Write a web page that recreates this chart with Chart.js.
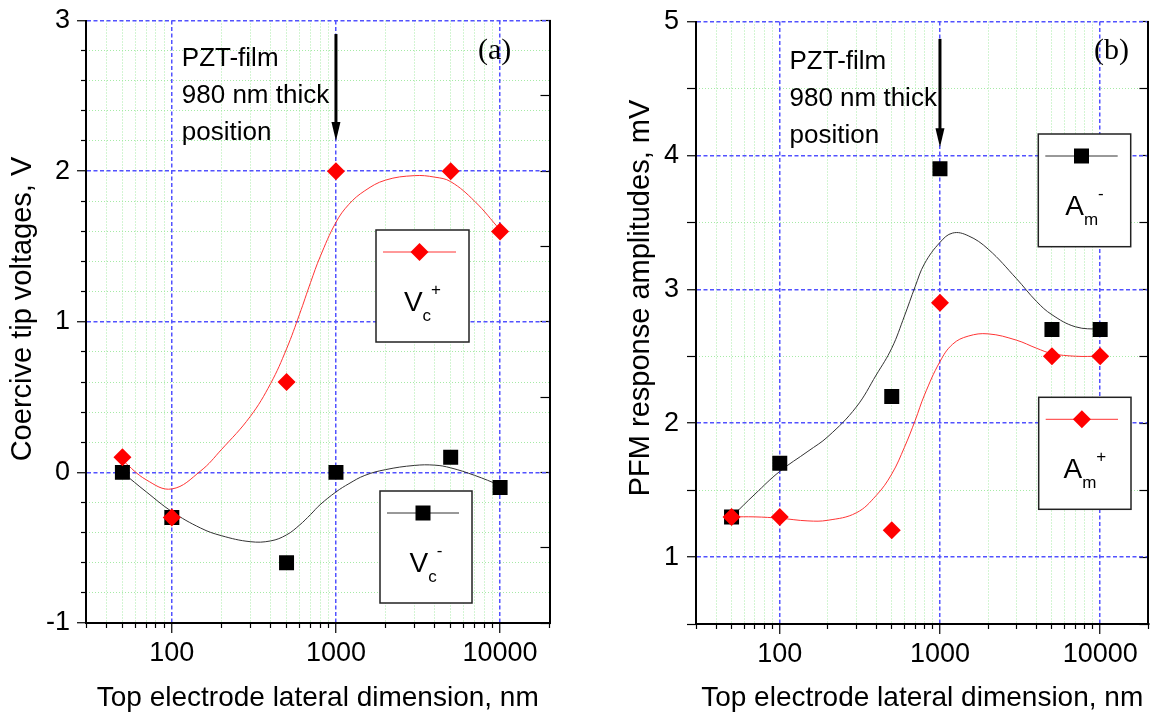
<!DOCTYPE html>
<html>
<head>
<meta charset="utf-8">
<script src="https://cdn.jsdelivr.net/npm/chart.js@4.4.1/dist/chart.umd.min.js"></script>
<style>
  html, body { margin: 0; padding: 0; background: #fff; }
  #wrap { position: relative; width: 1159px; height: 714px; overflow: hidden; }
  canvas { position: absolute; top: 0; }
  #chartA { left: 0; }
  #chartB { left: 580px; }
</style>
</head>
<body>
<div id="wrap">
  <canvas id="chartA" width="580" height="714"></canvas>
  <canvas id="chartB" width="579" height="714"></canvas>
</div>
<script>
// top electrode lateral dimension, nm
const sizes = [50, 100, 500, 1000, 5000, 10000];

// (a) coercive tip voltages, V
const vcPlus  = [0.1, -0.3, 0.6, 2.0, 2.0, 1.6];
const vcMinus = [0.0, -0.3, -0.6, 0.0, 0.1, -0.1];

// (b) PFM response amplitudes, mV
const amMinus = [1.3, 1.7, 2.2, 3.9, 2.7, 2.7];
const amPlus  = [1.3, 1.3, 1.2, 2.9, 2.5, 2.5];

const fitX = [50, 70, 100, 150, 200, 300, 400, 500, 600, 700, 800, 1000, 1200, 1500, 2000, 3000, 4000, 5000, 7000, 10000];
const vcPlusFit  = [0.08, -0.05, -0.11, 0.01, 0.15, 0.37, 0.59, 0.82, 1.05, 1.26, 1.43, 1.66, 1.78, 1.87, 1.94, 1.97, 1.96, 1.93, 1.80, 1.61];
const vcMinusFit = [0.0, -0.13, -0.26, -0.37, -0.42, -0.46, -0.455, -0.415, -0.35, -0.28, -0.215, -0.13, -0.075, -0.02, 0.018, 0.046, 0.048, 0.03, -0.02, -0.086];
const amMinusFit = [1.3, 1.47, 1.64, 1.79, 1.90, 2.12, 2.36, 2.56, 2.80, 3.02, 3.19, 3.35, 3.42, 3.40, 3.30, 3.08, 2.91, 2.81, 2.72, 2.70];
const amPlusFit  = [1.3, 1.30, 1.29, 1.27, 1.275, 1.33, 1.46, 1.62, 1.82, 2.02, 2.21, 2.46, 2.59, 2.65, 2.667, 2.62, 2.56, 2.52, 2.50, 2.50];

// axis ticks
const xMajor = [100, 1000, 10000];
const xMinor = [30, 40, 50, 60, 70, 80, 90, 200, 300, 400, 500, 600, 700, 800, 900,
                2000, 3000, 4000, 5000, 6000, 7000, 8000, 9000, 20000];
const yTicksA = [-1, 0, 1, 2, 3];
const yTicksB = [1, 2, 3, 4, 5];

const noteLines = ['PZT-film', '980 nm thick', 'position'];

const FONT = "'Liberation Sans', Arial, sans-serif";
const BLUE = '#5252ff';
const GREEN = '#a6eaa6';

Chart.defaults.font.family = FONT;
Chart.defaults.color = '#000';

function pts(xs, ys) {
  return xs.map((x, i) => ({x: x, y: ys[i]}));
}

function drawMarker(ctx, style, x, y, color) {
  ctx.fillStyle = color;
  ctx.beginPath();
  if (style === 'diamond') {
    ctx.moveTo(x, y - 9);
    ctx.lineTo(x + 9, y);
    ctx.lineTo(x, y + 9);
    ctx.lineTo(x - 9, y);
    ctx.closePath();
  } else {
    ctx.rect(x - 7.5, y - 7.5, 15, 15);
  }
  ctx.fill();
}

// notes, arrow, panel tag, legend boxes and the y title
const decor = {
  id: 'decor',
  afterDatasetsDraw(chart, args, o) {
    const ctx = chart.ctx;
    const sx = chart.scales.x, sy = chart.scales.y;
    ctx.save();

    ctx.fillStyle = '#000';
    ctx.font = '26px ' + FONT;
    ctx.textAlign = 'left';
    ctx.textBaseline = 'alphabetic';
    const nx = sx.getPixelForValue(o.note.x);
    const ny = sy.getPixelForValue(o.note.y);
    noteLines.forEach((t, i) => ctx.fillText(t, nx, ny + i * 37));

    // arrow pointing at the film thickness
    const ax = sx.getPixelForValue(o.arrow.x);
    const a1 = sy.getPixelForValue(o.arrow.from);
    const a2 = sy.getPixelForValue(o.arrow.to);
    ctx.strokeStyle = '#000';
    ctx.lineWidth = 3;
    ctx.beginPath();
    ctx.moveTo(ax, a1);
    ctx.lineTo(ax, a2 - 12);
    ctx.stroke();
    ctx.beginPath();
    ctx.moveTo(ax - 4.5, a2 - 19);
    ctx.lineTo(ax + 4.5, a2 - 19);
    ctx.lineTo(ax, a2);
    ctx.closePath();
    ctx.fill();

    ctx.font = "30px 'Liberation Serif', 'Times New Roman', serif";
    ctx.fillText(o.tag.text, o.tag.x, o.tag.y);

    o.boxes.forEach(b => {
      ctx.fillStyle = '#fff';
      ctx.fillRect(b.x, b.y, b.w, b.h);
      ctx.strokeStyle = '#222';
      ctx.lineWidth = 1.5;
      ctx.strokeRect(b.x, b.y, b.w, b.h);
      const ly = b.y + 22;
      const l1 = b.x + 7, l2 = b.x + b.w - 13;
      ctx.strokeStyle = b.line;
      ctx.lineWidth = 1;
      ctx.beginPath();
      ctx.moveTo(l1, ly);
      ctx.lineTo(l2, ly);
      ctx.stroke();
      drawMarker(ctx, b.style, (l1 + l2) / 2, ly, b.color);

      ctx.fillStyle = '#000';
      ctx.font = '28px ' + FONT;
      const wm = ctx.measureText(b.main).width;
      ctx.font = '17px ' + FONT;
      const ws = ctx.measureText(b.sub).width;
      const wp = ctx.measureText(b.sup).width;
      let tx = b.x + b.w / 2 - (wm + ws + wp) / 2;
      const base = b.y + 81;
      ctx.font = '28px ' + FONT;
      ctx.fillText(b.main, tx, base);
      tx += wm;
      ctx.font = '17px ' + FONT;
      ctx.fillText(b.sub, tx, base + 10);
      tx += ws;
      ctx.fillText(b.sup, tx, base - 16);
    });

    ctx.font = '29px ' + FONT;
    ctx.textAlign = 'center';
    ctx.textBaseline = 'middle';
    ctx.translate(o.yTitle.x, o.yTitle.y);
    ctx.rotate(-Math.PI / 2);
    ctx.fillText(o.yTitle.text, 0, 0);
    ctx.restore();
  }
};

function panel(id, p) {
  return new Chart(document.getElementById(id), {
    type: 'scatter',
    data: {
      datasets: [
        { data: pts(sizes, p.red), pointStyle: 'rectRot', pointRadius: 9, pointHoverRadius: 9,
          backgroundColor: '#ff0000', borderWidth: 0, order: 0, xAxisID: 'x', yAxisID: 'y' },
        { data: pts(sizes, p.black), pointStyle: 'rect', pointRadius: 10.6, pointHoverRadius: 10.6,
          backgroundColor: '#000', borderWidth: 0, order: 1, xAxisID: 'x', yAxisID: 'y' },
        { data: pts(fitX, p.redFit), showLine: true, pointRadius: 0, borderColor: '#ff3434',
          borderWidth: 1, tension: 0.4, order: 2, xAxisID: 'x', yAxisID: 'y' },
        { data: pts(fitX, p.blackFit), showLine: true, pointRadius: 0, borderColor: '#333',
          borderWidth: 1, tension: 0.4, order: 3, xAxisID: 'x', yAxisID: 'y' }
      ]
    },
    options: {
      responsive: false,
      animation: false,
      events: [],
      layout: { padding: { left: 0, right: p.padRight, top: 19, bottom: 0 } },
      plugins: {
        legend: { display: false },
        tooltip: { enabled: false },
        decor: p.decor
      },
      scales: {
        xMinor: {
          type: 'logarithmic', position: 'bottom', min: 30, max: 20000, weight: 0,
          afterBuildTicks: s => { s.ticks = xMinor.map(v => ({value: v})); },
          afterFit: s => { s.height = 0; },
          ticks: { display: false },
          grid: { color: GREEN, lineWidth: 1, tickLength: 5, tickColor: '#000', tickWidth: 1.2 },
          border: { display: false, dash: [1, 2] }
        },
        yMinor: {
          type: 'linear', position: 'left', min: p.yMin, max: p.yMax, weight: 0,
          ticks: { display: false, stepSize: p.minorStep },
          afterBuildTicks: s => { s.ticks = s.ticks.filter(t => Math.abs(t.value - Math.round(t.value)) > 1e-6); },
          afterFit: s => { s.width = 0; },
          grid: { color: GREEN, lineWidth: 1, tickLength: p.minorTick, tickColor: '#000', tickWidth: 1.2 },
          border: { display: false, dash: [1, 2] }
        },
        yR: {
          type: 'linear', position: 'right', min: p.yMin, max: p.yMax, weight: 0,
          ticks: { display: false, stepSize: 0.5 },
          afterFit: s => { s.width = 0; },
          grid: { drawOnChartArea: false, tickLength: -9, tickColor: '#000', tickWidth: 1.2 },
          border: { color: '#000', width: 2 }
        },
        x: {
          type: 'logarithmic', position: 'bottom', min: 30, max: 20000, weight: 1,
          afterBuildTicks: s => { s.ticks = xMajor.map(v => ({value: v})); },
          afterFit: s => { s.height = p.xHeight; },
          ticks: { autoSkip: false, maxRotation: 0, padding: 4, font: { size: 27, lineHeight: 1.2 },
                   callback: v => String(v) },
          grid: { color: BLUE, lineWidth: 1.5, tickLength: 10, tickColor: '#000', tickWidth: 1.2 },
          border: { color: '#000', width: 2, dash: [4, 2.5] },
          title: { display: true, text: 'Top electrode lateral dimension, nm',
                   font: { size: 28, lineHeight: 1 }, padding: { top: 0, bottom: 2 } }
        },
        y: {
          type: 'linear', position: 'left', min: p.yMin, max: p.yMax, weight: 1,
          afterBuildTicks: s => { s.ticks = p.yTicks.map(v => ({value: v})); },
          afterFit: s => { s.width = p.yWidth; },
          ticks: { padding: p.yPad, font: { size: 27, lineHeight: 1 } },
          grid: { color: BLUE, lineWidth: 1.5, tickLength: 9, tickColor: '#000', tickWidth: 1.2 },
          border: { color: '#000', width: 2, dash: [4, 2.5] }
        }
      }
    },
    plugins: [decor]
  });
}

panel('chartA', {
  red: vcPlus, black: vcMinus, redFit: vcPlusFit, blackFit: vcMinusFit,
  yTicks: yTicksA, yMin: -1, yMax: 3, minorStep: 0.2, minorTick: 5,
  yWidth: 86, yPad: 7, xHeight: 91, padRight: 30.5,
  decor: {
    note: { x: 115, y: 2.695 },
    arrow: { x: 1000, from: 2.91, to: 2.2 },
    tag: { text: '(a)', x: 478, y: 59 },
    yTitle: { text: 'Coercive tip voltages, V', x: 23, y: 309 },
    boxes: [
      { x: 376, y: 230, w: 93, h: 112, style: 'diamond', color: '#ff0000', line: '#ff3434', main: 'V', sub: 'c', sup: '+' },
      { x: 380, y: 491, w: 92, h: 112, style: 'square', color: '#000', line: '#333', main: 'V', sub: 'c', sup: '-' }
    ]
  }
});

panel('chartB', {
  red: amPlus, black: amMinus, redFit: amPlusFit, blackFit: amMinusFit,
  yTicks: yTicksB, yMin: 0.5, yMax: 5, minorStep: 0.5, minorTick: 9,
  yWidth: 116, yPad: 8, xHeight: 90, padRight: 2,
  decor: {
    note: { x: 115, y: 4.645 },
    arrow: { x: 1000, from: 4.87, to: 4.06 },
    tag: { text: '(b)', x: 514, y: 59 },
    yTitle: { text: 'PFM response amplitudes, mV', x: 61, y: 298 },
    boxes: [
      { x: 458.3, y: 134, w: 92.4, h: 112.7, style: 'square', color: '#000', line: '#333', main: 'A', sub: 'm', sup: '-' },
      { x: 458.7, y: 397.3, w: 92.3, h: 112, style: 'diamond', color: '#ff0000', line: '#ff3434', main: 'A', sub: 'm', sup: '+' }
    ]
  }
});
</script>
</body>
</html>
